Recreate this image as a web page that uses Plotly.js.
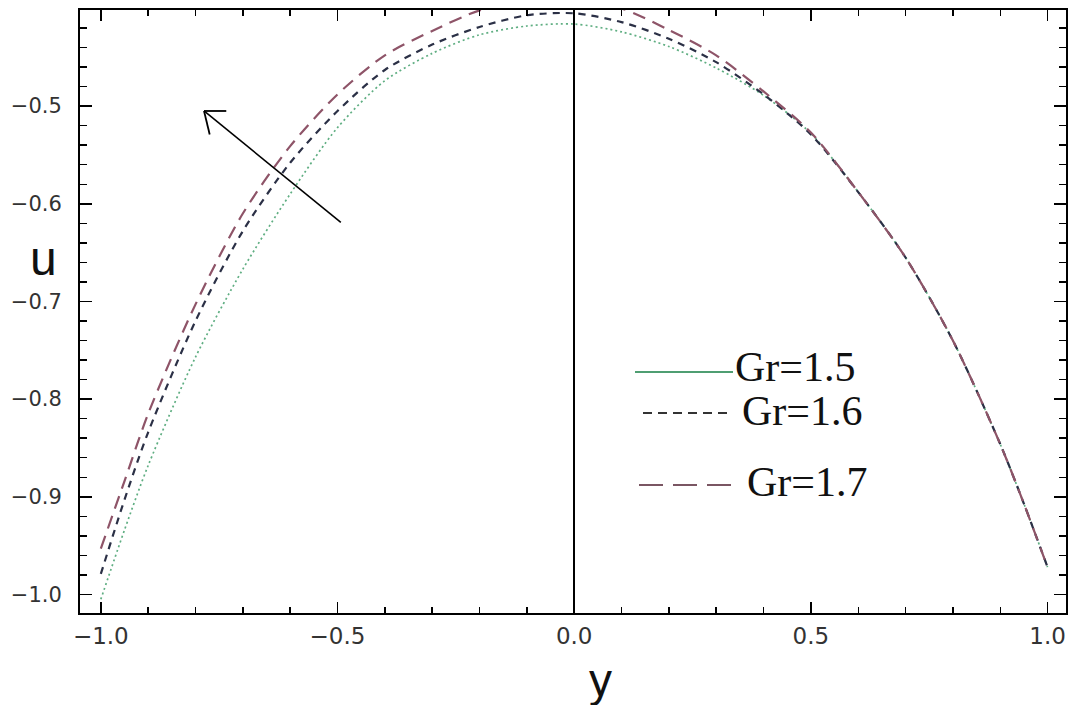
<!DOCTYPE html>
<html>
<head>
<meta charset="utf-8">
<script src="https://cdn.plot.ly/plotly-3.0.1.min.js"></script>
<style>
  html, body { margin: 0; padding: 0; background: #ffffff; }
  #plot { width: 1069px; height: 705px; }
</style>
</head>
<body>
<div id="plot"></div>
<script>
// Velocity profiles u(y) across the channel for three Grashof numbers
const yPos = [-1.0, -0.95, -0.9, -0.8, -0.7, -0.6, -0.5, -0.4, -0.3, -0.2, -0.1, 0.0,
              0.1, 0.2, 0.3, 0.4, 0.5, 0.6, 0.7, 0.8, 0.9, 0.95, 1.0];

const uGr15 = [-1.005, -0.934, -0.868, -0.757, -0.667, -0.590, -0.522, -0.474, -0.446, -0.427, -0.418, -0.416,
               -0.424, -0.439, -0.461, -0.489, -0.528, -0.588, -0.655, -0.740, -0.846, -0.907, -0.972];

const uGr16 = [-0.979, -0.903, -0.834, -0.720, -0.628, -0.558, -0.505, -0.463, -0.437, -0.419, -0.407, -0.405,
               -0.414, -0.431, -0.455, -0.488, -0.529, -0.588, -0.655, -0.740, -0.846, -0.907, -0.972];

const uGr17 = [-0.953, -0.884, -0.815, -0.703, -0.610, -0.541, -0.488, -0.448, -0.423, -0.402, -0.392, -0.391,
               -0.400, -0.422, -0.448, -0.485, -0.527, -0.588, -0.655, -0.740, -0.846, -0.907, -0.972];

const legendLabels = ['Gr=1.5', 'Gr=1.6', 'Gr=1.7'];

const xTickVals = [-1.0, -0.5, 0.0, 0.5, 1.0];
const yTickVals = [-1.0, -0.9, -0.8, -0.7, -0.6, -0.5];

const traces = [
  { x: yPos, y: uGr15, mode: 'lines', name: legendLabels[0],
    line: { color: '#5fae82', width: 1.7, dash: '2px,3px', shape: 'spline', smoothing: 0.8 } },
  { x: yPos, y: uGr16, mode: 'lines', name: legendLabels[1],
    line: { color: '#2b3046', width: 2.2, dash: '7px,6px', shape: 'spline', smoothing: 0.8 } },
  { x: yPos, y: uGr17, mode: 'lines', name: legendLabels[2],
    line: { color: '#8e5468', width: 2.2, dash: '13px,8px', shape: 'spline', smoothing: 0.8 } }
];

// plot area in pixels: left 80, right 1066, top 10, bottom 613
const L = 80, R = 1066, T = 10, B = 613;
const px = v => (v - L) / (R - L);
const py = v => (B - v) / (B - T);

const legendFont = { family: 'Liberation Serif, Times New Roman, serif', size: 42, color: '#111' };

// arrow (tail -> tip) in data units, with an open head made of two barbs
const arrowTail = [-0.493, -0.619];
const arrowTip = [-0.782, -0.505];
const barbX = 0.047, barbY = 0.024;

const layout = {
  width: 1069, height: 705,
  margin: { l: L, r: 1069 - R, t: T, b: 705 - B },
  paper_bgcolor: '#ffffff', plot_bgcolor: '#ffffff',
  showlegend: false,
  xaxis: {
    range: [-1.044, 1.039],
    tickvals: xTickVals, tickformat: '.1f',
    ticks: 'inside', ticklen: 11, tickwidth: 1.6, tickcolor: '#000',
    minor: { dtick: 0.1, tick0: 0, ticks: 'inside', ticklen: 6, tickwidth: 1.4, tickcolor: '#000' },
    showline: true, linecolor: '#000', linewidth: 2, mirror: 'allticks',
    showgrid: false,
    zeroline: true, zerolinecolor: '#000', zerolinewidth: 1.6,
    tickfont: { family: 'DejaVu Sans, sans-serif', size: 23, color: '#333333' },
    ticklabelstandoff: 1
  },
  yaxis: {
    range: [-1.019, -0.4016],
    tickvals: yTickVals, tickformat: '.1f',
    ticks: 'inside', ticklen: 12, tickwidth: 1.6, tickcolor: '#000',
    minor: { dtick: 0.02, tick0: -1.0, ticks: 'inside', ticklen: 7, tickwidth: 1.4, tickcolor: '#000' },
    showline: true, linecolor: '#000', linewidth: 2, mirror: 'allticks',
    showgrid: false, zeroline: false,
    tickfont: { family: 'DejaVu Sans, sans-serif', size: 21, color: '#333333' },
    ticklabelstandoff: 12
  },
  shapes: [
    { type: 'line', xref: 'paper', yref: 'paper', x0: px(635), x1: px(733), y0: py(372), y1: py(372),
      line: { color: '#4f9e72', width: 1.8 } },
    { type: 'line', xref: 'paper', yref: 'paper', x0: px(643), x1: px(727), y0: py(413), y1: py(413),
      line: { color: '#333333', width: 1.8, dash: '9px,6px' } },
    { type: 'line', xref: 'paper', yref: 'paper', x0: px(639), x1: px(733), y0: py(485), y1: py(485),
      line: { color: '#7a5663', width: 2, dash: '24px,10px' } },
    { type: 'line', xref: 'x', yref: 'y', x0: arrowTail[0], y0: arrowTail[1], x1: arrowTip[0], y1: arrowTip[1],
      line: { color: '#000', width: 1.6 } },
    { type: 'line', xref: 'x', yref: 'y', x0: arrowTip[0], y0: arrowTip[1], x1: arrowTip[0] + barbX, y1: arrowTip[1],
      line: { color: '#000', width: 1.8 } },
    { type: 'line', xref: 'x', yref: 'y', x0: arrowTip[0], y0: arrowTip[1], x1: arrowTip[0] + 0.012, y1: arrowTip[1] - barbY,
      line: { color: '#000', width: 1.8 } }
  ],
  annotations: [
    { text: legendLabels[0], xref: 'paper', yref: 'paper', x: px(733), y: py(367),
      xanchor: 'left', yanchor: 'middle', showarrow: false, font: legendFont },
    { text: legendLabels[1], xref: 'paper', yref: 'paper', x: px(740), y: py(411),
      xanchor: 'left', yanchor: 'middle', showarrow: false, font: legendFont },
    { text: legendLabels[2], xref: 'paper', yref: 'paper', x: px(745), y: py(482),
      xanchor: 'left', yanchor: 'middle', showarrow: false, font: legendFont },
    { text: 'u', xref: 'paper', yref: 'paper', x: px(43), y: py(258),
      xanchor: 'center', yanchor: 'middle', showarrow: false,
      font: { family: 'Liberation Sans, Arial, sans-serif', size: 48, color: '#111' } },
    { text: 'y', xref: 'paper', yref: 'paper', x: px(600), y: py(680),
      xanchor: 'center', yanchor: 'middle', showarrow: false,
      font: { family: 'Liberation Sans, Arial, sans-serif', size: 46, color: '#111' } }
  ]
};

Plotly.newPlot('plot', traces, layout, { displayModeBar: false, staticPlot: true });
</script>
</body>
</html>
